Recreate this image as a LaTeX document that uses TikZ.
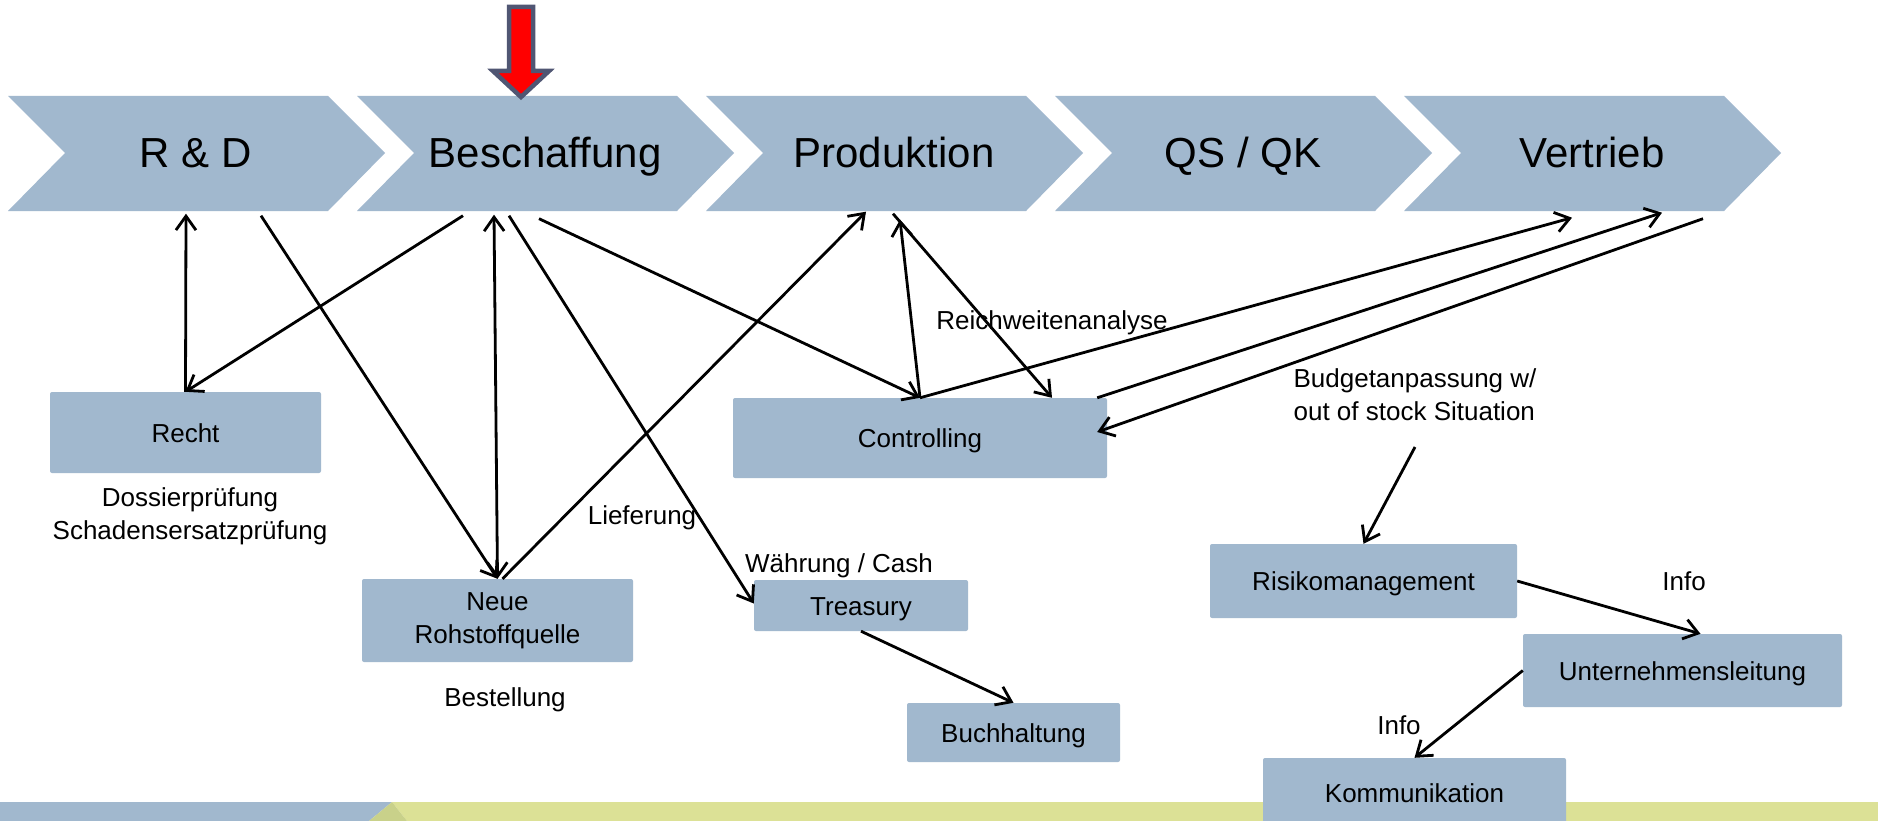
\documentclass[tikz,border=0pt]{standalone}
\usepackage{fontspec}
\setmainfont{Liberation Sans}
\usetikzlibrary{arrows.meta,calc}
\definecolor{boxblue}{RGB}{161,184,206}
\definecolor{bargreen}{RGB}{220,225,150}
\definecolor{bardark}{RGB}{201,209,138}
\definecolor{arrowrim}{RGB}{80,86,115}
\tikzset{
  chev/.style={fill=boxblue},
  chevlabel/.style={minimum width=320pt, minimum height=115pt, inner sep=0pt,
    text height=30pt, text depth=0pt, font=\fontsize{42}{50}\selectfont},
  unit/.style={fill=boxblue, rounded corners=2pt, inner sep=0pt, align=center,
    font=\fontsize{26}{33}\selectfont},
  one/.style={text height=19pt, text depth=0pt},
  lab/.style={inner sep=0pt, align=center, font=\fontsize{26}{33}\selectfont},
  tipb/.tip={Straight Barb[length=14pt,width=20pt]},
  link/.style={line width=2.8pt, -tipb},
  dlink/.style={line width=2.8pt, tipb-tipb},
  redarrow/.style={fill=red, draw=arrowrim, line width=4.5pt, line join=miter}
}
\begin{document}
\begin{tikzpicture}[x=1pt,y=-1pt]
\clip (0,0) rectangle (1878,821);
\fill[white] (0,0) rectangle (1878,821);

% bottom bar
\fill[boxblue] (0,802) -- (392,802) -- (369,821) -- (0,821) -- cycle;
\fill[bargreen] (392,802) -- (1878,802) -- (1878,821) -- (407,821) -- cycle;
\fill[bardark] (392,802) -- (407,821) -- (369,821) -- cycle;

% process chevrons
\foreach \L/\n/\t in {8/rd/{R \& D}, 357/besch/Beschaffung, 706/prod/Produktion,
                      1055/qs/{QS / QK}, 1404/vert/Vertrieb}{
  \fill[chev] (\L,96) -- (\L+320,96) -- (\L+377,153) -- (\L+320,211)
              -- (\L,211) -- (\L+57,153) -- cycle;
  \node[chevlabel] (\n) at (\L+188,153) {\t};
}

% boxes
\node[unit, one, minimum width=271pt, minimum height=81pt] (recht) at (185.5,432.5) {Recht};
\node[unit, minimum width=374pt, minimum height=80pt, one] (ctrl) at (920,438) {Controlling};
\node[unit, minimum width=271pt, minimum height=83pt] (neue) at (497.5,620.5) {Neue\\Rohstoffquelle};
\node[unit, one, minimum width=214pt, minimum height=51pt] (treas) at (861,605.5) {Treasury};
\node[unit, one, minimum width=213pt, minimum height=59pt] (buch) at (1013.5,732.5) {Buchhaltung};
\node[unit, one, minimum width=307pt, minimum height=74pt] (risk) at (1363.5,581) {Risikomanagement};
\node[unit, one, minimum width=319pt, minimum height=73pt] (unt) at (1682.5,670.5) {Unternehmensleitung};
\node[unit, one, minimum width=303pt, minimum height=70pt] (komm) at (1414.5,793) {Kommunikation};

% free labels
\node[lab] (dossier) at (190,516) {Dossierprüfung\\Schadensersatzprüfung};
\node[lab, one] (bestell) at (505,697) {Bestellung};
\node[lab, one] (liefer) at (642,515) {Lieferung};
\node[lab, one] (waehr) at (839,563) {Währung / Cash};
\node[lab, one] (reich) at (1052,320) {Reichweitenanalyse};
\node[lab, align=left] (budget) at (1415,395) {Budgetanpassung w/\\out of stock Situation};
\node[lab, one] (info1) at (1684,581) {Info};
\node[lab, one] (info2) at (1399,725) {Info};
\coordinate (bstart) at (1415,447);

% connectors
\draw[link] (recht.north) -- ([xshift=-10pt,yshift=-3pt]rd.south);
\draw[link] ([xshift=-82pt,yshift=-5pt]besch.south) -- (recht.north);
\draw[link] ([xshift=65pt,yshift=-5pt]rd.south) -- (neue.north);
\draw[dlink] ([xshift=-51pt,yshift=-4pt]besch.south) -- (neue.north);
\draw[link] ([xshift=5pt]neue.north) -- ([xshift=-28pt,yshift=-1pt]prod.south);
\draw[link] ([xshift=-36pt,yshift=-5pt]besch.south) -- ([yshift=2pt]treas.west);
\draw[link] ([xshift=-6pt,yshift=-8pt]besch.south) -- (ctrl.north);
\draw[link] (ctrl.north) -- ([xshift=6pt,yshift=-9pt]prod.south);
\draw[link] ([xshift=-1pt,yshift=-3pt]prod.south) -- ([xshift=132pt]ctrl.north);
\draw[link] (ctrl.north) -- ([xshift=-20pt,yshift=-7pt]vert.south);
\draw[link] ([xshift=-10pt]ctrl.north east) -- ([xshift=70pt,yshift=-2pt]vert.south);
\draw[link] ([xshift=111pt,yshift=-8pt]vert.south) -- ([xshift=-10pt,yshift=6pt]ctrl.east);
\draw[link] (treas.south) -- (buch.north);
\draw[link] (bstart) -- (risk.north);
\draw[link] (risk.east) -- ([xshift=18pt]unt.north);
\draw[link] (unt.west) -- (komm.north);

% red marker arrow
\draw[redarrow] (509,7) -- (533,7) -- (533,71) -- (549,71) -- (521,97)
                -- (493,71) -- (509,71) -- cycle;
\end{tikzpicture}
\end{document}
